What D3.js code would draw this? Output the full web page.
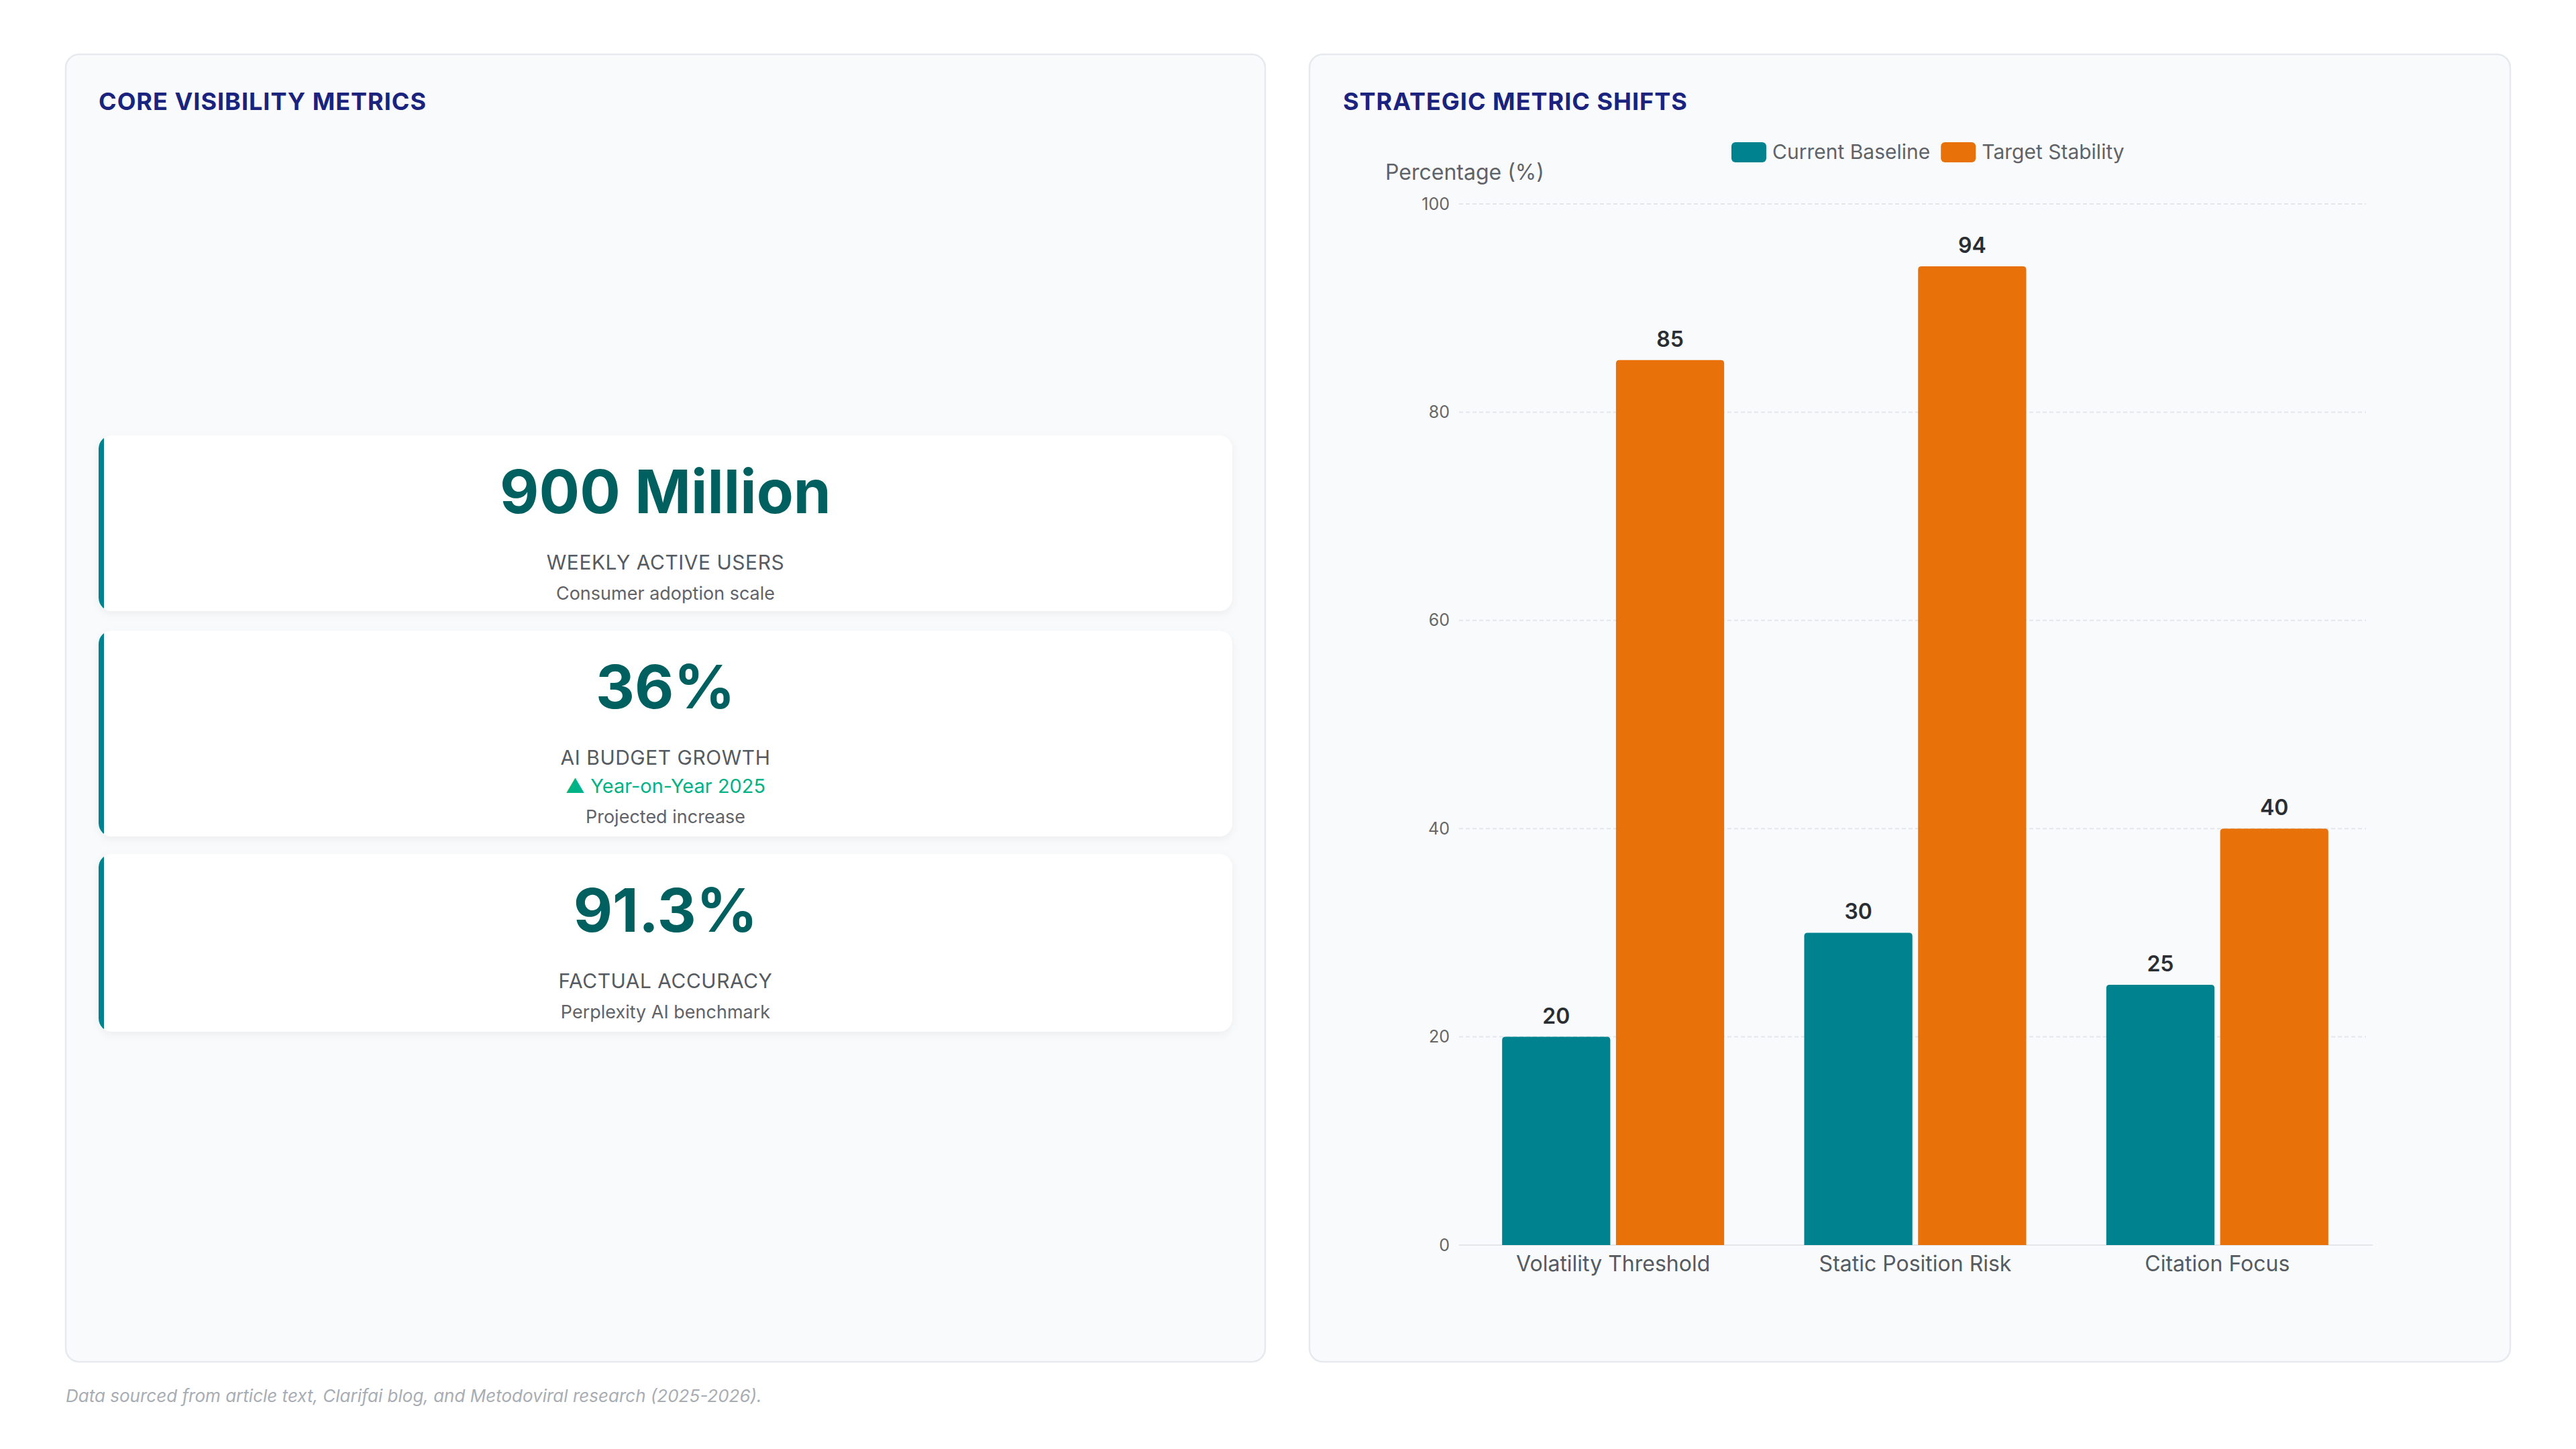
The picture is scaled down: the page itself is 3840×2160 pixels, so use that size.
<!DOCTYPE html>
<html><head><meta charset="utf-8">
<script src="https://cdn.jsdelivr.net/npm/d3@7/dist/d3.min.js"></script>
<style>body{margin:0;background:#fff;font-family:Inter,"Noto Sans",sans-serif}</style>
</head><body><svg id="c" width="3840" height="2160"></svg>
<script>
const categories=["Volatility Threshold","Static Position Risk","Citation Focus"];
const seriesNames=["Current Baseline","Target Stability"];
const baseline=[20,30,25];
const target=[85,94,40];
const yTicks=[0,20,40,60,80,100];
const cardValues=["900 Million","36%","91.3%"];
const cardLabels=["WEEKLY ACTIVE USERS","AI BUDGET GROWTH","FACTUAL ACCURACY"];
const cardTrend=[null,"▲ Year-on-Year 2025",null];
const cardSubs=["Consumer adoption scale","Projected increase","Perplexity AI benchmark"];
const colors=["#00838f","#e8710a"];

const svg=d3.select("#c");
const defs=svg.append("defs");
const f=defs.append("filter").attr("id","sh").attr("x","-5%").attr("y","-10%").attr("width","110%").attr("height","130%");
f.append("feDropShadow").attr("dx",0).attr("dy",4).attr("stdDeviation",6).attr("flood-color","#000").attr("flood-opacity",0.05);

[[98,1886],[1952,3742]].forEach(([x0,x1])=>{
  svg.append("rect").attr("x",x0).attr("y",81).attr("width",x1-x0).attr("height",1949).attr("rx",20)
    .attr("fill","#f8fafc").attr("stroke","#e6e9ee").attr("stroke-width",2.5);
});
svg.append("text").attr("x",147).attr("y",164).attr("font-size",36).attr("font-weight",700).attr("fill","#1a237e").attr("letter-spacing",1).text("CORE VISIBILITY METRICS");
svg.append("text").attr("x",2002).attr("y",164).attr("font-size",36).attr("font-weight",700).attr("fill","#1a237e").attr("letter-spacing",1).text("STRATEGIC METRIC SHIFTS");

// cards
const cards=[[649,911],[940,1247],[1273,1538]];
const cx=(147+1837)/2;
cards.forEach(([y0,y1],i)=>{
  const g=svg.append("g");
  g.append("rect").attr("x",147).attr("y",y0).attr("width",1690).attr("height",y1-y0).attr("rx",20).attr("fill","#fff").attr("filter","url(#sh)");
  const cp=g.append("clipPath").attr("id","cp"+i);
  cp.append("rect").attr("x",147).attr("y",y0).attr("width",1690).attr("height",y1-y0).attr("rx",20);
  g.append("rect").attr("x",147).attr("y",y0).attr("width",8).attr("height",y1-y0).attr("fill","#00838f").attr("clip-path","url(#cp"+i+")");
  let y=y0+(i===1?116:116);
  g.append("text").attr("x",cx).attr("y",y).attr("text-anchor","middle").attr("font-size",90).attr("font-weight",700).attr("fill","#00605f").text(cardValues[i]);
  y+=84;
  g.append("text").attr("x",cx).attr("y",y).attr("text-anchor","middle").attr("font-size",30).attr("fill","#555b61").attr("letter-spacing",0.5).text(cardLabels[i]);
  if(cardTrend[i]){y+=42;g.append("text").attr("x",cx).attr("y",y).attr("text-anchor","middle").attr("font-size",29).attr("fill","#00b386").text(cardTrend[i]);}
  y+=45;
  g.append("text").attr("x",cx).attr("y",y).attr("text-anchor","middle").attr("font-size",27).attr("fill","#5f6368").text(cardSubs[i]);
});

// chart
const y=d3.scaleLinear().domain([0,100]).range([1856,304]);
const x=d3.scaleBand().domain(categories).range([2175,3535]).paddingInner(0).paddingOuter(0.01);
const x1=d3.scaleBand().domain(seriesNames).range([0,331]).paddingInner(0.05);
const cOff=(x.bandwidth()-331)/2;
const yAx=svg.append("g").attr("transform","translate(2175,0)").call(d3.axisLeft(y).tickValues(yTicks).tickSize(0).tickPadding(14));
yAx.select(".domain").remove();
yAx.selectAll("text").attr("font-size",25).attr("fill","#666").attr("font-family","Inter");
svg.append("g").selectAll("line").data(yTicks.filter(d=>d>0)).join("line")
  .attr("x1",2175).attr("x2",3527).attr("y1",d=>y(d)).attr("y2",d=>y(d)).attr("stroke","#e3e6ea").attr("stroke-dasharray","6,4").attr("stroke-width",2);
svg.append("line").attr("x1",2175).attr("x2",3537).attr("y1",y(0)).attr("y2",y(0)).attr("stroke","#e3e6ea").attr("stroke-width",2);
const data=categories.map((c,i)=>[{c,s:seriesNames[0],v:baseline[i],k:0},{c,s:seriesNames[1],v:target[i],k:1}]).flat();
function barPath(x0,w,yt,yb,r){return `M${x0},${yb}V${yt+r}Q${x0},${yt} ${x0+r},${yt}H${x0+w-r}Q${x0+w},${yt} ${x0+w},${yt+r}V${yb}Z`;}
svg.append("g").selectAll("path").data(data).join("path")
  .attr("d",d=>barPath(x(d.c)+cOff+x1(d.s),x1.bandwidth(),y(d.v),y(0),5)).attr("fill",d=>colors[d.k]);
svg.append("g").selectAll("text").data(data).join("text")
  .attr("x",d=>x(d.c)+cOff+x1(d.s)+x1.bandwidth()/2).attr("y",d=>y(d.v)-20).attr("text-anchor","middle")
  .attr("font-size",32).attr("font-weight",600).attr("fill","#2a2e33").text(d=>d.v);
const xAx=svg.append("g").attr("transform",`translate(0,${y(0)})`).call(d3.axisBottom(x).tickSize(0).tickPadding(16));
xAx.select(".domain").remove();
xAx.selectAll("text").attr("font-size",32).attr("fill","#555b61").attr("font-family","Inter");
svg.append("text").attr("x",2065).attr("y",268).attr("font-size",32).attr("fill","#5f6368").text("Percentage (%)");
// legend
const lg=svg.append("g");
let lx=2581;
seriesNames.forEach((s,i)=>{
  lg.append("rect").attr("x",lx).attr("y",212).attr("width",52).attr("height",30).attr("rx",6).attr("fill",colors[i]);
  const t=lg.append("text").attr("x",lx+61).attr("y",237).attr("font-size",30).attr("fill","#5f6368").text(s);
  lx+=61+t.node().getComputedTextLength()+16;
});
svg.append("text").attr("x",98).attr("y",2090).attr("font-size",26).attr("font-style","italic").attr("fill","#a8adb3").text("Data sourced from article text, Clarifai blog, and Metodoviral research (2025-2026).");
</script></body></html>
